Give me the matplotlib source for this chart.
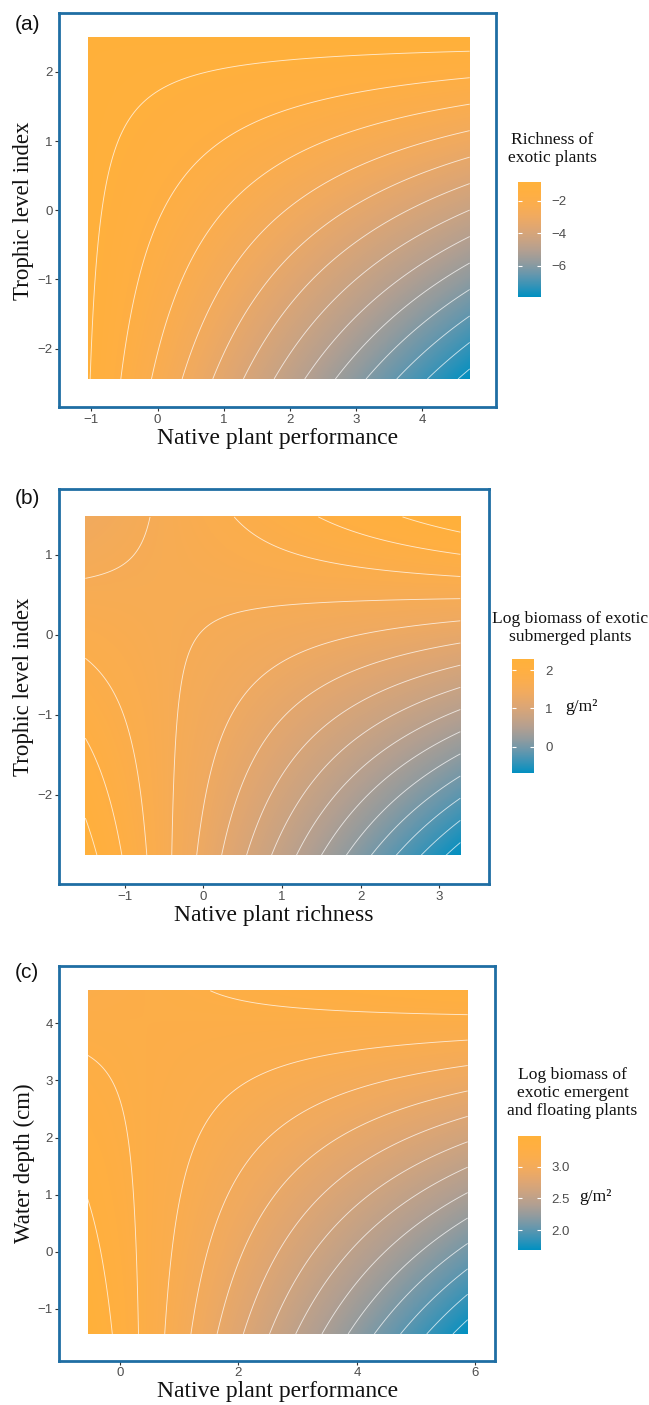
import numpy as np
import matplotlib
matplotlib.use("Agg")
import matplotlib.pyplot as plt
from matplotlib.colors import LinearSegmentedColormap
from matplotlib.ticker import FuncFormatter

plt.rcParams["contour.negative_linestyle"] = "solid"
plt.rcParams["axes.unicode_minus"] = True

W, H = 649, 1405
SANS = ["Liberation Sans", "DejaVu Sans"]
SERIF = ["Liberation Serif", "DejaVu Serif"]

# ---------------- data ----------------
# panel (a): richness of exotic plants
a_x_range = [-1.055, 4.716]
a_y_range = [-2.438, 2.504]
a_corners = [[-1.100, -7.89],   # bottom-left, bottom-right
             [-0.931, -0.85]]   # top-left, top-right
a_levels = [-7.682, -7.137, -6.592, -6.047, -5.502, -4.957, -4.412,
            -3.867, -3.322, -2.777, -2.232, -1.687, -1.142]
a_xticks = [-1, 0, 1, 2, 3, 4]
a_yticks = [-2, -1, 0, 1, 2]
a_cbticks = [-6, -4, -2]

# panel (b): log biomass of exotic submerged plants
b_x_range = [-1.50, 3.267]
b_y_range = [-2.76, 1.47]
b_corners = [[2.237, -0.696],
             [1.411, 2.280]]
b_levels = [-0.584, -0.389, -0.194, 0.001, 0.196, 0.391, 0.586, 0.781,
            0.976, 1.171, 1.366, 1.561, 1.756, 1.951, 2.146]
b_xticks = [-1, 0, 1, 2, 3]
b_yticks = [-2, -1, 0, 1]
b_cbticks = [0, 1, 2]

# panel (c): log biomass of exotic emergent and floating plants
c_x_range = [-0.545, 5.868]
c_y_range = [-1.441, 4.571]
c_corners = [[3.480, 1.689],
             [3.185, 3.357]]
c_levels = [1.7585, 1.882, 2.0055, 2.129, 2.2525, 2.376, 2.4995, 2.623,
            2.7465, 2.870, 2.9935, 3.117, 3.2405, 3.364]
c_xticks = [0, 2, 4, 6]
c_yticks = [-1, 0, 1, 2, 3, 4]
c_cbticks = [2.0, 2.5, 3.0]

# ---------------- styling ----------------
_stops = [(0, 144, 193), (55, 147, 183), (104, 151, 172), (146, 155, 158),
          (178, 159, 145), (202, 163, 130), (223, 166, 114),
          (240, 170, 96), (250, 173, 79), (255, 175, 66), (255, 177, 58)]
cmap = LinearSegmentedColormap.from_list(
    "bgo", [(i / 10, tuple(c / 255 for c in rgb))
            for i, rgb in enumerate(_stops)], N=512)
BORDER = "#1F6EA3"
TICKTXT = "#4D4D4D"
TXT = "#111111"


def fig_axes(l, t, r, b):
    return fig.add_axes([l / W, 1 - b / H, (r - l) / W, (b - t) / H])


def ftext(x, y, s, **kw):
    fig.text(x / W, 1 - y / H, s, **kw)


def panel(box, xlim, ylim, xr, yr, corners, levels, xticks, yticks,
          cbox, cbticks, cbfmt, letter, letter_y, xlabel, ylabel,
          legend_title, title_xy, unit_xy):
    ax = fig_axes(*box)
    n = 400
    xs = np.linspace(xr[0], xr[1], n)
    ys = np.linspace(yr[0], yr[1], n)
    X, Y = np.meshgrid(xs, ys)
    tx = (X - xr[0]) / (xr[1] - xr[0])
    ty = (Y - yr[0]) / (yr[1] - yr[0])
    (zbl, zbr), (ztl, ztr) = corners
    Z = (zbl * (1 - tx) * (1 - ty) + zbr * tx * (1 - ty)
         + ztl * (1 - tx) * ty + ztr * tx * ty)
    zmin, zmax = Z.min(), Z.max()
    im = ax.imshow(Z, extent=[xr[0], xr[1], yr[0], yr[1]], origin="lower",
                   cmap=cmap, vmin=zmin, vmax=zmax, aspect="auto",
                   interpolation="bilinear")
    ax.contour(X, Y, Z, levels=levels, colors="white", linewidths=0.65,
               linestyles="solid", alpha=0.72)
    ax.set_xlim(*xlim)
    ax.set_ylim(*ylim)
    ax.set_xticks(xticks)
    ax.set_yticks(yticks)
    for s in ax.spines.values():
        s.set_color(BORDER)
        s.set_linewidth(2.0)
    ax.tick_params(direction="out", length=3, width=0.8, color="#333333",
                   labelsize=9.5, labelcolor=TICKTXT, pad=1.5)
    for lab in ax.get_xticklabels() + ax.get_yticklabels():
        lab.set_fontfamily(SANS)

    cax = fig_axes(*cbox)
    cb = fig.colorbar(im, cax=cax, ticks=cbticks)
    cb.outline.set_visible(False)
    cax.yaxis.set_major_formatter(
        FuncFormatter(lambda v, p: (cbfmt % v).replace("-", "\u2212")))
    cax.tick_params(direction="in", color="white", length=3.2, width=0.8,
                    left=True, right=True, labelleft=False, labelright=True,
                    labelsize=9.5, labelcolor=TICKTXT, pad=8)
    for lab in cax.get_yticklabels():
        lab.set_fontfamily(SANS)

    l, t, r, b = box
    ftext(15, letter_y, letter, family=SANS, fontsize=15, ha="left",
          va="center", color=TXT)
    ftext((l + r) / 2, b + 31, xlabel, family=SERIF, fontsize=17,
          ha="center", va="center", color=TXT)
    ftext(24, (t + b) / 2, ylabel, family=SERIF, fontsize=16.5,
          ha="center", va="center", rotation=90, color=TXT)
    ftext(title_xy[0], title_xy[1], legend_title, family=SERIF,
          fontsize=12.6, ha="center", va="center", multialignment="center",
          linespacing=1.2, color=TXT)
    if unit_xy is not None:
        ftext(unit_xy[0], unit_xy[1], "g/m²", family=SERIF, fontsize=12.6,
              ha="left", va="center", color=TXT)


fig = plt.figure(figsize=(W / 100, H / 100), dpi=100)

panel((59, 13.3, 495.8, 407.3), (-1.49, 5.11), (-2.847, 2.847),
      a_x_range, a_y_range, a_corners, a_levels, a_xticks, a_yticks,
      (517.7, 182.3, 540.7, 296.7), a_cbticks, "%g", "(a)", 24,
      "Native plant performance", "Trophic level index",
      "Richness of\nexotic plants", (552.5, 149), None)

panel((59.2, 489.3, 489.2, 884.3), (-1.832, 3.634), (-3.1225, 1.815),
      b_x_range, b_y_range, b_corners, b_levels, b_xticks, b_yticks,
      (511.7, 659.3, 534.3, 773.3), b_cbticks, "%g", "(b)", 499,
      "Native plant richness", "Trophic level index",
      "Log biomass of exotic\nsubmerged plants", (570.5, 628),
      (565.5, 707))

panel((59.2, 965.7, 495.4, 1360.7), (-1.026, 6.336), (-1.909, 5.009),
      c_x_range, c_y_range, c_corners, c_levels, c_xticks, c_yticks,
      (517.7, 1136, 540.7, 1250), c_cbticks, "%.1f", "(c)", 973,
      "Native plant performance", "Water depth (cm)",
      "Log biomass of\nexotic emergent\nand floating plants", (572.5, 1093),
      (579, 1197))

fig.savefig("out.png", dpi=100)
